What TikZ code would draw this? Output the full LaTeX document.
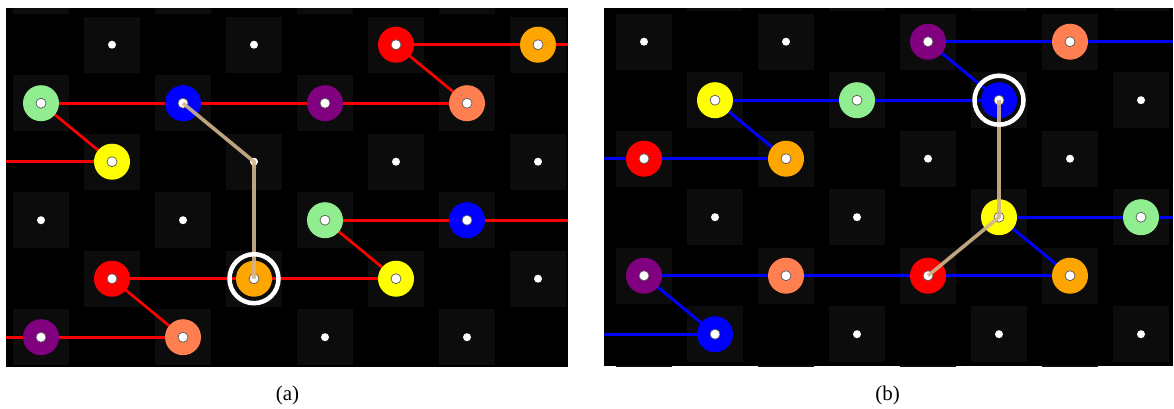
\documentclass[tikz,border=0pt]{standalone}
\usepackage{fontspec}
\setmainfont{Liberation Serif}
\definecolor{sqgray}{RGB}{12,12,12}
\definecolor{cred}{RGB}{255,0,0}
\definecolor{cgreen}{RGB}{144,238,144}
\definecolor{cblue}{RGB}{0,0,255}
\definecolor{cyellow}{RGB}{255,255,0}
\definecolor{cpurple}{RGB}{128,0,128}
\definecolor{corange}{RGB}{255,165,0}
\definecolor{ccoral}{RGB}{255,127,80}
\definecolor{ctan}{RGB}{210,180,140}
\tikzset{
  sq/.style={fill=sqgray},
  disk/.style={circle, minimum size=36pt, inner sep=0pt, fill=#1},
  hole/.style={circle, minimum size=10pt, inner sep=0pt, fill=white, draw=black!65, line width=0.7pt},
  freedot/.style={circle, minimum size=8pt, inner sep=0pt, fill=white},
  redline/.style={draw=cred, line width=2.7pt},
  blueline/.style={draw=cblue, line width=3pt},
  tanline/.style={draw=ctan, line width=3.6pt, opacity=0.9},
  ring/.style={circle, minimum size=49pt, inner sep=0pt, draw=white, line width=4.5pt},
  lab/.style={font=\fontsize{21}{24}\selectfont, inner sep=0pt},
}
\newcommand\diskat[3]{\node[disk=#3] (#1#2d) at (#1#2) {}; \node[hole] (#1#2h) at (#1#2) {};}
\newcommand\dotat[2]{\node[freedot] (#1#2f) at (#1#2) {};}
\begin{document}
\begin{tikzpicture}[x=1pt,y=-1pt]
\useasboundingbox (0,0) rectangle (1174,408);
% ---------------- panel (a) ----------------
\fill[black] (6,8) rectangle (567.7,366.5);
\begin{scope}
\clip (6,8) rectangle (567.7,366.5);
\foreach \c in {0,...,7} \foreach \r in {-1,...,6} {
  \pgfmathparse{int(mod(\c+\r+2,2))}
  \ifnum\pgfmathresult=1
    \fill[sq] ({41+71*\c-28},{44.7+58.5*\r-28}) rectangle ++(56,56);
  \fi
}
\end{scope}
\foreach \c in {0,...,7} \foreach \r in {0,...,5} {
  \coordinate (a\c\r) at ({41+71*\c},{44.7+58.5*\r});
}
\coordinate (aR0) at (567.7,44.7);
\coordinate (aL2) at (6,161.7);
\coordinate (aR3) at (567.7,220.2);
\coordinate (aL5) at (6,337.2);
% red connectors
\draw[redline] (a50) -- (a70) -- (aR0);
\draw[redline] (a50) -- (a61);
\draw[redline] (a01) -- (a21) -- (a41) -- (a61);
\draw[redline] (a01) -- (a12);
\draw[redline] (aL2) -- (a12);
\draw[redline] (a43) -- (a63) -- (aR3);
\draw[redline] (a43) -- (a54);
\draw[redline] (a14) -- (a34) -- (a54);
\draw[redline] (a14) -- (a25);
\draw[redline] (aL5) -- (a05) -- (a25);
% disks
\diskat{a}{50}{cred}
\diskat{a}{70}{corange}
\diskat{a}{01}{cgreen}
\diskat{a}{21}{cblue}
\diskat{a}{41}{cpurple}
\diskat{a}{61}{ccoral}
\diskat{a}{12}{cyellow}
\diskat{a}{43}{cgreen}
\diskat{a}{63}{cblue}
\diskat{a}{14}{cred}
\diskat{a}{34}{corange}
\diskat{a}{54}{cyellow}
\diskat{a}{05}{cpurple}
\diskat{a}{25}{ccoral}
% free positions
\dotat{a}{10}\dotat{a}{30}\dotat{a}{32}\dotat{a}{52}\dotat{a}{72}
\dotat{a}{03}\dotat{a}{23}\dotat{a}{74}\dotat{a}{45}\dotat{a}{65}
% tan path and ring
\draw[tanline] (a21) -- (a32) -- (a34);
\node[ring] (aring) at (a34) {};
\node[lab] (la) at (287.5,395) {(a)};
% ---------------- panel (b) ----------------
\fill[black] (604,8) rectangle (1173,366);
\begin{scope}
\clip (604,8) rectangle (1173,366);
\foreach \c in {0,...,7} \foreach \r in {-1,...,6} {
  \pgfmathparse{int(mod(\c+\r+2,2))}
  \ifnum\pgfmathresult=0
    \fill[sq] ({644+71*\c-28},{41.7+58.5*\r-28}) rectangle ++(56,56);
  \fi
}
\end{scope}
\foreach \c in {0,...,7} \foreach \r in {0,...,5} {
  \coordinate (b\c\r) at ({644+71*\c},{41.7+58.5*\r});
}
\coordinate (bR0) at (1173,41.7);
\coordinate (bL2) at (604,158.7);
\coordinate (bR3) at (1173,217.2);
\coordinate (bL5) at (604,334.2);
% blue connectors
\draw[blueline] (b40) -- (b60) -- (bR0);
\draw[blueline] (b40) -- (b51);
\draw[blueline] (b11) -- (b31) -- (b51);
\draw[blueline] (b11) -- (b22);
\draw[blueline] (bL2) -- (b02) -- (b22);
\draw[blueline] (b53) -- (b73) -- (bR3);
\draw[blueline] (b53) -- (b64);
\draw[blueline] (b04) -- (b24) -- (b44) -- (b64);
\draw[blueline] (b04) -- (b15);
\draw[blueline] (bL5) -- (b15);
% disks
\diskat{b}{40}{cpurple}
\diskat{b}{60}{ccoral}
\diskat{b}{11}{cyellow}
\diskat{b}{31}{cgreen}
\diskat{b}{51}{cblue}
\diskat{b}{02}{cred}
\diskat{b}{22}{corange}
\diskat{b}{53}{cyellow}
\diskat{b}{73}{cgreen}
\diskat{b}{04}{cpurple}
\diskat{b}{24}{ccoral}
\diskat{b}{44}{cred}
\diskat{b}{64}{corange}
\diskat{b}{15}{cblue}
% free positions
\dotat{b}{00}\dotat{b}{20}\dotat{b}{71}\dotat{b}{42}\dotat{b}{62}
\dotat{b}{13}\dotat{b}{33}\dotat{b}{35}\dotat{b}{55}\dotat{b}{75}
% tan path and ring
\draw[tanline] (b51) -- (b53) -- (b44);
\node[ring] (bring) at (b51) {};
\node[lab] (lb) at (887.5,395) {(b)};
\end{tikzpicture}
\end{document}
